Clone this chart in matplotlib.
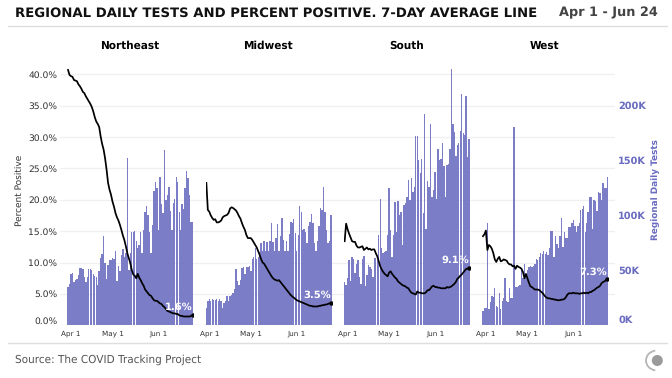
import matplotlib
matplotlib.use('Agg')
import matplotlib.pyplot as plt
from matplotlib.patches import Arc, Circle
import numpy as np

plt.rcParams['text.hinting'] = 'none'

regions = ['Northeast', 'Midwest', 'South', 'West']

# daily tests, thousands
tests_ne = [35, 38, 47, 48, 39, 41, 42, 46, 52, 52, 51, 44, 39, 44, 51, 51, 50, 47, 45, 44,
            37, 49, 61, 65, 81, 57, 42, 55, 59, 59, 61, 60, 68, 40, 54, 49, 64, 69, 62, 66,
            152, 50, 66, 85, 85, 86, 77, 70, 73, 85, 66, 87, 103, 108, 100, 85, 66, 91, 122, 130,
            125, 87, 135, 110, 102, 159, 114, 118, 126, 104, 87, 111, 115, 135, 130, 103, 87, 110, 106, 125,
            140, 134, 118, 94, 94]
tests_mw = [16, 22, 24, 22, 24, 23, 23, 24, 22, 24, 22, 16, 20, 22, 27, 22, 27, 28, 29, 33,
            51, 40, 37, 41, 52, 53, 47, 53, 53, 54, 49, 60, 62, 70, 60, 62, 67, 75, 68, 77,
            68, 76, 68, 77, 93, 76, 68, 79, 92, 68, 81, 98, 78, 68, 77, 68, 83, 94, 93, 97,
            84, 68, 82, 108, 103, 87, 88, 85, 75, 90, 94, 101, 93, 75, 68, 77, 90, 107, 105, 126,
            103, 87, 75, 77, 100]
tests_so = [39, 37, 43, 59, 40, 62, 60, 48, 56, 59, 44, 38, 60, 63, 36, 46, 55, 53, 51, 44,
            61, 61, 59, 82, 115, 70, 66, 67, 68, 82, 125, 87, 62, 82, 112, 85, 113, 100, 103, 73,
            109, 111, 117, 132, 114, 134, 121, 126, 172, 172, 150, 138, 151, 102, 192, 88, 131, 126, 183, 117,
            123, 139, 115, 160, 150, 151, 166, 145, 117, 146, 147, 160, 233, 183, 176, 154, 164, 166, 177, 210,
            175, 173, 208, 153, 169]
tests_we = [13, 16, 16, 93, 15, 21, 27, 26, 34, 18, 17, 29, 15, 22, 25, 43, 22, 21, 34, 25,
            25, 180, 35, 35, 36, 37, 50, 43, 56, 47, 50, 53, 54, 53, 54, 56, 60, 59, 62, 66,
            65, 68, 65, 67, 64, 70, 86, 86, 62, 81, 74, 70, 81, 98, 71, 85, 79, 79, 89, 89,
            93, 96, 90, 85, 90, 93, 105, 106, 108, 85, 93, 103, 117, 117, 88, 114, 113, 104, 121, 120,
            114, 129, 125, 125, 135]

# percent positive, 7 day average
pct_ne = [40.7, 39.9, 39.7, 39.6, 39.1, 39.0, 38.9, 38.4, 38.1, 37.7, 37.2, 37.0, 36.5, 36.1, 35.7, 35.3, 34.8, 34.1, 33.2, 32.5,
          32.1, 31.6, 30.1, 28.9, 28.0, 26.6, 24.8, 22.7, 21.6, 20.8, 19.7, 18.9, 17.9, 17.2, 16.7, 16.0, 15.2, 14.3, 13.6, 12.6,
          11.5, 10.7, 9.9, 8.8, 8.1, 7.9, 7.5, 8.2, 7.6, 7.2, 6.7, 6.3, 5.7, 5.4, 5.1, 4.8, 4.7, 4.3, 4.0, 3.9,
          3.9, 3.7, 3.5, 3.4, 3.1, 2.9, 2.6, 2.3, 2.2, 2.1, 2.0, 1.9, 1.9, 1.8, 1.8, 1.6, 1.5, 1.5, 1.4, 1.4,
          1.4, 1.4, 1.4, 1.5, 1.6]
pct_mw = [22.7, 18.4, 18.1, 17.5, 17.1, 16.8, 16.9, 16.4, 16.4, 16.5, 16.7, 17.2, 17.4, 17.5, 17.6, 17.9, 18.6, 18.8, 18.7, 18.5,
          18.3, 17.9, 17.4, 17.0, 16.3, 15.7, 15.2, 14.4, 13.9, 13.9, 13.9, 13.6, 13.2, 12.8, 12.4, 11.8, 11.2, 10.5, 10.0, 9.8,
          9.4, 9.0, 8.6, 8.2, 7.8, 7.5, 7.3, 7.2, 7.1, 7.2, 6.9, 6.6, 6.3, 6.0, 5.7, 5.4, 5.1, 4.8, 4.6, 4.4,
          4.2, 4.0, 3.9, 3.8, 3.7, 3.6, 3.5, 3.4, 3.3, 3.2, 3.1, 3.1, 3.0, 3.0, 3.0, 3.0, 3.1, 3.1, 3.2, 3.2,
          3.3, 3.3, 3.4, 3.5, 3.5]
pct_so = [13.4, 16.2, 15.3, 14.6, 14.0, 13.4, 13.3, 13.3, 12.7, 12.4, 12.4, 12.5, 12.6, 12.0, 12.2, 12.4, 12.1, 12.2, 12.0, 12.1,
          12.1, 11.5, 11.0, 10.2, 9.4, 8.9, 8.5, 8.2, 8.0, 7.8, 8.4, 8.6, 8.2, 7.9, 7.6, 7.4, 7.0, 6.8, 6.6, 6.4,
          6.3, 6.2, 6.0, 5.9, 5.5, 5.2, 5.1, 5.0, 4.9, 5.4, 5.2, 5.2, 5.1, 5.1, 5.1, 5.3, 5.6, 5.6, 5.9, 6.2,
          6.3, 6.1, 6.1, 6.0, 6.0, 5.9, 5.9, 5.9, 5.9, 6.1, 6.0, 6.1, 6.2, 6.4, 6.6, 6.9, 7.4, 7.6, 7.9, 8.1,
          8.4, 8.7, 9.0, 9.0, 9.1]
pct_we = [14.2, 14.5, 15.1, 12.0, 12.8, 12.6, 12.2, 11.5, 10.5, 10.1, 10.6, 10.9, 10.2, 10.3, 10.5, 10.4, 10.3, 9.9, 9.7, 9.7,
          9.4, 9.5, 9.0, 9.5, 9.3, 9.2, 9.0, 8.5, 7.5, 8.2, 7.5, 6.8, 6.2, 6.1, 5.9, 5.7, 5.7, 5.7, 5.6, 5.4,
          5.2, 4.9, 4.6, 4.4, 4.3, 4.3, 4.2, 4.2, 4.1, 4.1, 4.0, 4.0, 4.0, 4.1, 4.1, 4.2, 4.5, 4.9, 5.1, 5.1,
          5.1, 5.2, 5.1, 5.1, 5.1, 5.0, 5.1, 5.1, 5.2, 5.1, 5.2, 5.1, 5.3, 5.3, 5.5, 5.6, 5.8, 6.0, 6.1, 6.3,
          6.7, 6.9, 7.0, 7.2, 7.3]

all_tests = [tests_ne, tests_mw, tests_so, tests_we]
all_pct = [pct_ne, pct_mw, pct_so, pct_we]
last_labels = ['1.6%', '3.5%', '9.1%', '7.3%']

pct_ticks = [0, 5, 10, 15, 20, 25, 30, 35, 40]
pct_tick_labels = ['0.0%', '5.0%', '10.0%', '15.0%', '20.0%', '25.0%', '30.0%', '35.0%', '40.0%']
test_ticks = [0, 50, 100, 150, 200]
test_tick_labels = ['0K', '50K', '100K', '150K', '200K']
date_ticks = [2, 30, 61]
date_labels = ['Apr 1', 'May 1', 'Jun 1']

W, H = 672, 378
BLUE = '#6a6cc0'
y_base, y_top = 325.3, 60
pct_max = (y_base - y_top) / 6.275
test_max = (y_base - y_top) / 1.1


def px_axes(x0, x1):
    return fig.add_axes([x0 / W, 1 - y_base / H, (x1 - x0) / W, (y_base - y_top) / H])


fig = plt.figure(figsize=(6.72, 3.78), dpi=100)

# background grid and the two y axes
bg = px_axes(60, 615)
bg.set_ylim(0, pct_max)
bg.set_xticks([])
bg.set_yticks(pct_ticks)
bg.set_yticklabels(pct_tick_labels, fontsize=6.6, color='#333333')
bg.get_yticklabels()[0].set_va('bottom')
bg.tick_params(axis='y', length=0, pad=2)
bg.grid(axis='y', color='#f0f0f0', lw=1)
bg.set_axisbelow(True)
for s in bg.spines.values():
    s.set_visible(False)

bg2 = bg.twinx()
bg2.set_ylim(0, test_max)
bg2.set_yticks(test_ticks)
bg2.set_yticklabels(test_tick_labels, fontsize=7, color=BLUE, fontweight='bold')
bg2.get_yticklabels()[0].set_va('bottom')
bg2.tick_params(axis='y', length=0, pad=2.2)
for s in bg2.spines.values():
    s.set_visible(False)

for k in range(4):
    x0 = 67.3 + 138.3 * k
    days = np.arange(len(all_tests[k]))

    ax2 = px_axes(x0, x0 + 126)
    ax2.set_xlim(-0.5, 84.5)
    ax2.set_ylim(0, test_max)
    ax2.bar(days, all_tests[k], width=0.94, color='#7476c4', alpha=0.95, lw=0)
    ax2.set_yticks([])
    ax2.set_xticks(date_ticks)
    ax2.set_xticklabels(date_labels, fontsize=5.2, color='#333333')
    ax2.tick_params(axis='x', length=0, pad=3.5)
    ax2.patch.set_visible(False)
    for s in ax2.spines.values():
        s.set_visible(False)

    ax = px_axes(x0, x0 + 126)
    ax.set_xlim(-0.5, 84.5)
    ax.set_ylim(0, pct_max)
    ax.plot(days, all_pct[k], color='black', lw=1.25)
    ax.plot(days[-1], all_pct[k][-1], 'o', color='black', ms=2.2)
    ax.annotate(last_labels[k], (days[-1], all_pct[k][-1]), xytext=(0, 5.6), textcoords='offset points',
                ha='right', va='center', color='white', fontsize=7.2, fontweight='bold')
    ax.axis('off')

    fig.text((x0 + 62.5) / W, 1 - 45.5 / H, regions[k], ha='center', va='center', fontsize=7.6, fontweight='bold')

fig.text(15 / W, 1 - 13 / H, 'REGIONAL DAILY TESTS AND PERCENT POSITIVE. 7-DAY AVERAGE LINE',
         ha='left', va='center', fontsize=9.5, fontweight='bold', color='#111111')
fig.text(658 / W, 1 - 13 / H, 'Apr 1 - Jun 24', ha='right', va='center', fontsize=9.3, fontweight='bold', color='#444444')
fig.text(19 / W, 1 - 190 / H, 'Percent Positive', rotation=90, ha='center', va='center', fontsize=6.5, color='#333333')
fig.text(656 / W, 1 - 190 / H, 'Regional Daily Tests', rotation=90, ha='center', va='center',
         fontsize=6.4, color=BLUE, fontweight='bold')
fig.text(15 / W, 1 - 360 / H, 'Source: The COVID Tracking Project', ha='left', va='center', fontsize=7.6, color='#555555')

# rules and logo, in pixels
top = fig.add_axes([0, 0, 1, 1])
top.set_xlim(0, W)
top.set_ylim(H, 0)
top.axis('off')
top.plot([8, 667], [26, 26], color='#dedede', lw=1)
top.plot([8, 667], [342.7, 342.7], color='#dedede', lw=1)
top.add_patch(Circle((657.3, 360.5), 5.5, color='#9a9a9a', lw=0))
top.add_patch(Arc((657, 360.5), 22, 20, theta1=100, theta2=260, color='#b5b5b5', lw=1.3))

fig.savefig('out.png', dpi=100)
